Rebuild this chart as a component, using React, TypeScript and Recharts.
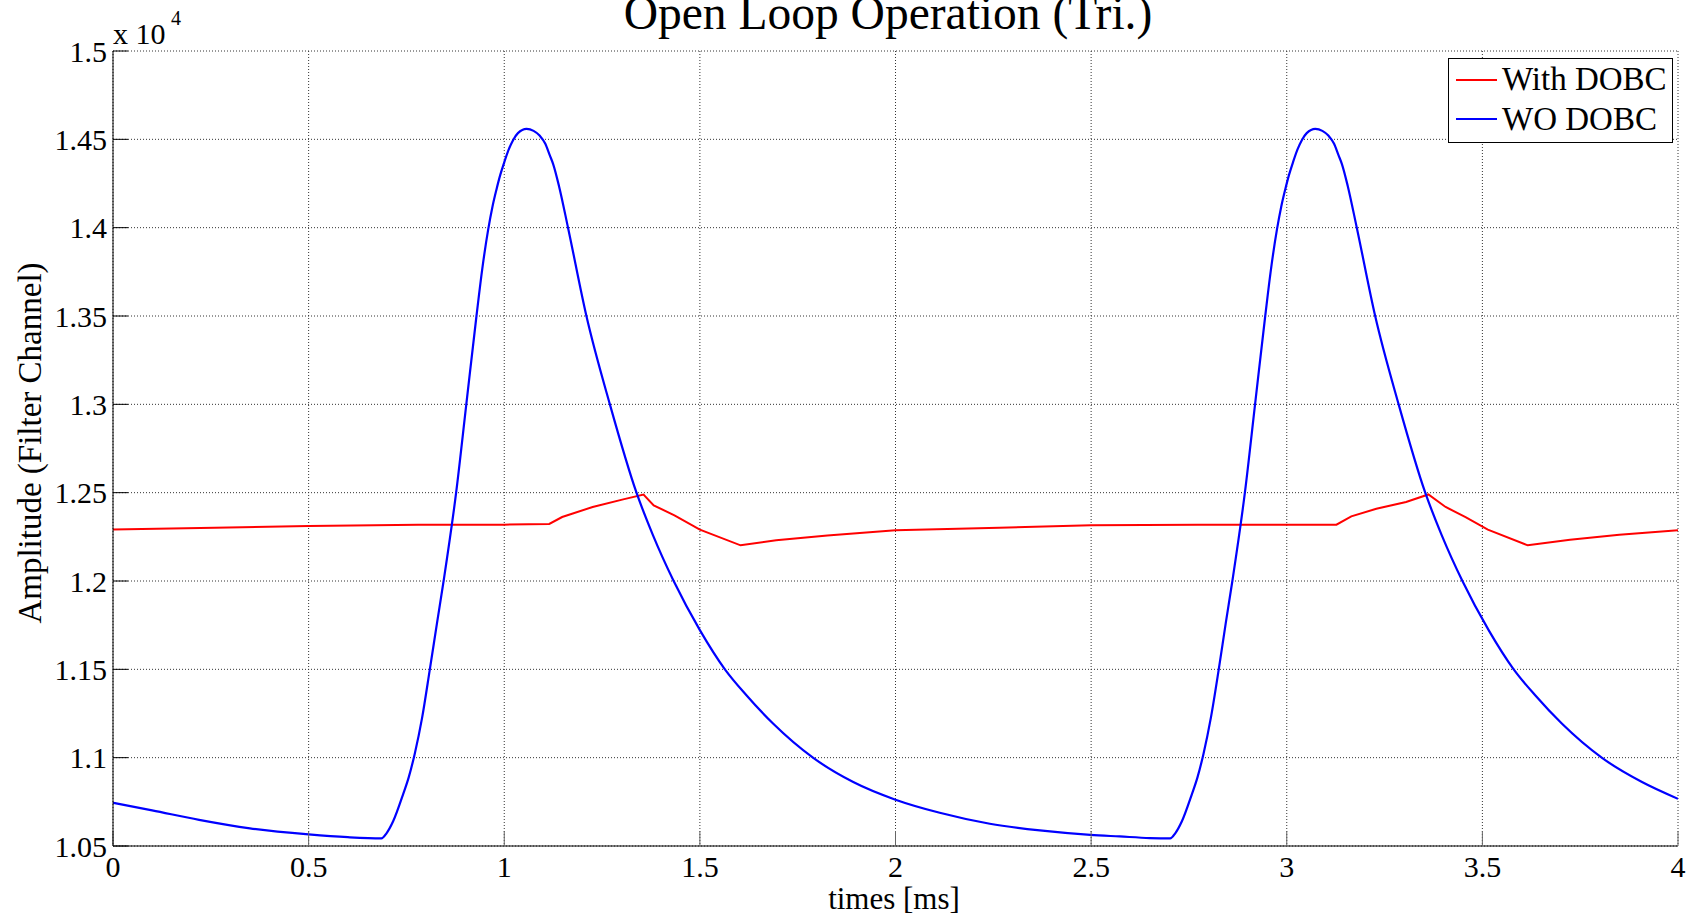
import React from 'react';
import { LineChart, Line, XAxis, YAxis, CartesianGrid, Legend } from 'recharts';

const FONT = '"Liberation Serif", "Times New Roman", Times, serif';

// WO DOBC (blue) — time [ms], amplitude
const woTime = [
  0, 0.1, 0.22, 0.35, 0.5, 0.6, 0.686, 0.699, 0.716, 0.741, 0.756, 0.771, 0.79, 0.8096,
  0.828, 0.845, 0.877, 0.903, 0.929, 0.944, 0.959, 0.97, 0.98, 0.99, 1.0, 1.011, 1.0225,
  1.035, 1.057, 1.075, 1.091, 1.105, 1.116, 1.125, 1.14, 1.163, 1.21, 1.27, 1.338, 1.38,
  1.433, 1.5, 1.564, 1.619, 1.687, 1.789, 1.892, 2.0, 2.113, 2.241, 2.369, 2.498, 2.573,
  2.65, 2.702, 2.715, 2.732, 2.757, 2.772, 2.787, 2.806, 2.826, 2.844, 2.861, 2.893, 2.919,
  2.945, 2.96, 2.975, 2.986, 2.996, 3.006, 3.016, 3.027, 3.0385, 3.051, 3.073, 3.091, 3.107,
  3.121, 3.132, 3.141, 3.156, 3.179, 3.226, 3.286, 3.354, 3.396, 3.449, 3.516, 3.58, 3.635,
  3.703, 3.805, 3.908, 4.0,
];
const woValue = [
  10745, 10702, 10648, 10600, 10566, 10550, 10543, 10572, 10640, 10790, 10890, 11020, 11225,
  11497, 11760, 12000, 12500, 13000, 13500, 13770, 13990, 14120, 14215, 14300, 14370, 14440,
  14495, 14535, 14559, 14548, 14520, 14475, 14412, 14360, 14235, 14000, 13500, 13000, 12500,
  12260, 12000, 11722, 11500, 11353, 11193, 11000, 10862, 10762, 10688, 10626, 10588, 10563,
  10554, 10545, 10543, 10572, 10640, 10790, 10890, 11020, 11225, 11497, 11760, 12000, 12500,
  13000, 13500, 13770, 13990, 14120, 14215, 14300, 14370, 14440, 14495, 14535, 14559, 14548,
  14520, 14475, 14412, 14360, 14235, 14000, 13500, 13000, 12500, 12260, 12000, 11722, 11500,
  11353, 11193, 11000, 10862, 10767,
];

// With DOBC (red)
const withTime = [
  0, 0.26, 0.5, 0.78, 1.0, 1.115, 1.148, 1.226, 1.304, 1.356, 1.382, 1.435, 1.5, 1.604,
  1.695, 1.826, 2.0, 2.265, 2.5, 2.772, 3.127, 3.165, 3.229, 3.305, 3.362, 3.406, 3.457,
  3.514, 3.616, 3.724, 3.85, 4.0,
];
const withValue = [
  12291, 12302, 12311, 12319, 12319, 12323, 12362, 12419, 12462, 12489, 12428, 12372, 12291,
  12202, 12230, 12258, 12287, 12302, 12315, 12319, 12319, 12366, 12409, 12447, 12490, 12419,
  12362, 12291, 12202, 12234, 12262, 12287,
];

const xTicks = [0, 0.5, 1, 1.5, 2, 2.5, 3, 3.5, 4];
const yTicks = [10500, 11000, 11500, 12000, 12500, 13000, 13500, 14000, 14500, 15000];
const seriesNames = ['With DOBC', 'WO DOBC'];
const seriesColors = ['#ff0000', '#0000ff'];
const titleText = 'Open Loop Operation (Tri.)';
const xLabel = 'times [ms]';
const yLabel = 'Amplitude (Filter Channel)';

const withData = withTime.map((t, i) => ({ t, v: withValue[i] }));
const woData = woTime.map((t, i) => ({ t, v: woValue[i] }));

const LegendBox = () => (
  <svg width={226} height={86} style={{ display: 'block' }}>
    <rect x={0.5} y={0.5} width={224} height={84} fill="#fff" stroke="#000" strokeWidth={1} />
    {seriesNames.map((n, i) => (
      <g key={n}>
        <line x1={8} x2={49} y1={22 + i * 39} y2={22 + i * 39} stroke={seriesColors[i]} strokeWidth={2} />
        <text x={54} y={32 + i * 40} fontSize={33} fontFamily={FONT} fill="#000">
          {n}
        </text>
      </g>
    ))}
  </svg>
);

export default function App() {
  return (
    <div style={{ position: 'absolute', left: 0, top: 0, width: 1688, height: 918, background: '#fff' }}>
      <LineChart
        width={1688}
        height={918}
        margin={{ top: 51, right: 10, bottom: 12, left: 13 }}
      >
        <CartesianGrid stroke="#333" strokeDasharray="1 2" strokeWidth={1} />
        <XAxis
          dataKey="t"
          type="number"
          domain={[0, 4]}
          ticks={xTicks}
          allowDataOverflow
          height={60}
          interval={0}
          tickFormatter={(v: number) => String(v)}
          tick={{ fontSize: 30, fill: '#000', fontFamily: FONT }}
          tickSize={-15}
          tickMargin={25}
          tickLine={{ stroke: '#666' }}
          axisLine={{ stroke: '#000' }}
        />
        <XAxis
          xAxisId="top"
          orientation="top"
          type="number"
          domain={[0, 4]}
          ticks={xTicks}
          allowDataOverflow
          height={0}
          mirror
          tick={false}
          tickSize={15}
          tickLine={{ stroke: '#666' }}
          axisLine={{ stroke: '#000' }}
        />
        <YAxis
          type="number"
          domain={[10500, 15000]}
          ticks={yTicks}
          allowDataOverflow
          width={100}
          interval={0}
          tickFormatter={(v: number) => String(v / 10000)}
          tick={{ fontSize: 30, fill: '#000', fontFamily: FONT }}
          tickSize={-15}
          tickMargin={21}
          tickLine={{ stroke: '#000' }}
          axisLine={{ stroke: '#000' }}
        />
        <YAxis
          yAxisId="right"
          orientation="right"
          type="number"
          domain={[10500, 15000]}
          ticks={yTicks}
          allowDataOverflow
          width={0}
          mirror
          tick={false}
          tickSize={15}
          tickLine={{ stroke: '#000' }}
          axisLine={{ stroke: '#000' }}
        />
        <Line
          data={withData}
          dataKey="v"
          name={seriesNames[0]}
          stroke={seriesColors[0]}
          strokeWidth={2}
          type="linear"
          dot={false}
          activeDot={false}
          isAnimationActive={false}
        />
        <Line
          data={woData}
          dataKey="v"
          name={seriesNames[1]}
          stroke={seriesColors[1]}
          strokeWidth={2.2}
          type="monotone"
          dot={false}
          activeDot={false}
          isAnimationActive={false}
        />
        <Legend
          layout="vertical"
          align="center"
          verticalAlign="middle"
          wrapperStyle={{ left: 1448, top: 58, width: 226, height: 86 }}
          content={() => <LegendBox />}
        />
      </LineChart>
      <svg
        width={1688}
        height={918}
        style={{ position: 'absolute', left: 0, top: 0, pointerEvents: 'none' }}
      >
        <text x={888} y={29} textAnchor="middle" fontSize={47.5} fontFamily={FONT} fill="#000">
          {titleText}
        </text>
        <text x={113} y={44} fontSize={30} fontFamily={FONT} fill="#000">
          x 10
        </text>
        <text x={171} y={25} fontSize={20} fontFamily={FONT} fill="#000">
          4
        </text>
        <text x={894} y={909} textAnchor="middle" fontSize={31} fontFamily={FONT} fill="#000">
          {xLabel}
        </text>
        <text
          x={0}
          y={0}
          transform="translate(41,443) rotate(-90)"
          textAnchor="middle"
          fontSize={33}
          fontFamily={FONT}
          fill="#000"
        >
          {yLabel}
        </text>
      </svg>
    </div>
  );
}
